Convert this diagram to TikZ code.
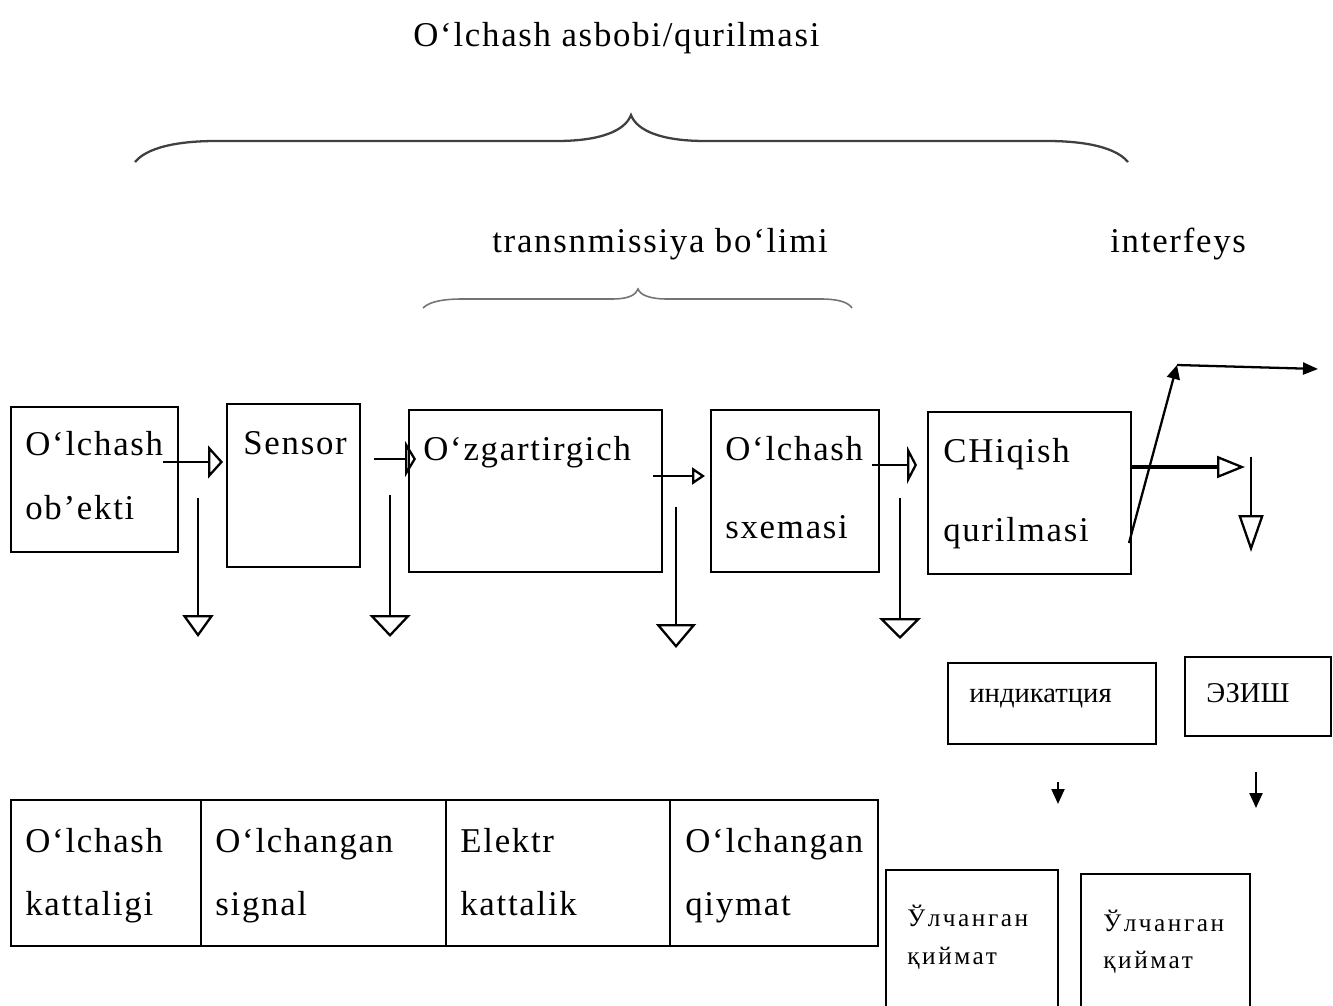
\documentclass[tikz,border=0pt]{standalone}
\usepackage{fontspec}
\setmainfont{Liberation Serif}
\newfontfamily\spacedserif{Liberation Serif}[LetterSpace=5]
\newfontfamily\widecyr{Liberation Serif}[LetterSpace=10]
\usetikzlibrary{arrows.meta}

\begin{document}
\begin{tikzpicture}[x=0.02cm,y=-0.02cm,
  box/.style={draw,line width=1.3pt,anchor=north west,inner sep=0pt,outer sep=0pt},
  boxsize/.style 2 args={minimum width=#1*0.02cm,minimum height=#2*0.02cm},
  txt/.style={anchor=base west,inner sep=0pt,font=\spacedserif\fontsize{19.8}{24}\selectfont},
  small/.style={anchor=base west,inner sep=0pt,font=\widecyr\fontsize{14.4}{17}\selectfont},
  cyr/.style={anchor=base west,inner sep=0pt,font=\fontsize{16.3}{19}\selectfont},
  flow/.style={line width=1.3pt},
  brace/.style={draw=black!75,line width=1.3pt},
  fine brace/.style={draw=black!55,line width=0.9pt}
]
  \useasboundingbox (0,0) rectangle (1333,1006);
  \clip (0,0) rectangle (1333,1006);

  % braces
  \path[brace] (135,162) .. controls (150,144) and (190,141) .. (216,141) -- (557,141)
    .. controls (600,141) and (625,131) .. (631,115)
    .. controls (637,131) and (662,141) .. (705,141) -- (1047,141)
    .. controls (1073,141) and (1113,144) .. (1128,162);
  \path[fine brace] (423,308) .. controls (430,301) and (445,299) .. (463,299) -- (613,299)
    .. controls (628,299) and (636,295) .. (638,289)
    .. controls (640,295) and (650,299) .. (667,299) -- (820,299)
    .. controls (838,299) and (848,302) .. (852,308);

  \node[txt] (title) at (413,47) {O‘lchash asbobi/qurilmasi};
  \node[txt] (trans) at (492,253) {transnmissiya bo‘limi};
  \node[txt] (iface) at (1110,253) {interfeys};

  % chain of blocks
  \node[box,boxsize={167}{145}] (obj) at (11,407) {};
  \node[box,boxsize={133}{163}] (sensor) at (227,404) {};
  \node[box,boxsize={253}{162}] (conv) at (409,410) {};
  \node[box,boxsize={168}{162}] (scheme) at (711,410) {};
  \node[box,boxsize={203}{162}] (out) at (928,412) {};

  \node[txt] (objA) at (25,456) {O‘lchash};
  \node[txt] (objB) at (25,520) {ob’ekti};
  \node[txt] (sensorA) at (243,455) {Sensor};
  \node[txt] (convA) at (423,461) {O‘zgartirgich};
  \node[txt] (schemeA) at (725,461) {O‘lchash};
  \node[txt] (schemeB) at (725,539) {sxemasi};
  \node[txt] (outA) at (943,463) {CHiqish};
  \node[txt] (outB) at (943,542) {qurilmasi};

  % arrow ends
  \foreach \n/\x/\y in {s12/163/462,e12/223/462,s23/374/459,e23/416/459,
      s34/653/476,e34/705/476,s45/872/465,e45/917/465,
      sout/1131/467,eout/1245/467,sdn/1251/457,edn/1251/552,
      sdiag/1129/543,top/1177/365,eright/1318/369,
      s1/198/498,e1/198/637,s2/390/495,e2/390/637,
      s3/676/507,e3/676/648,s4/900/498,e4/900/639,
      sind/1058/782,eind/1058/804,srec/1256/772,erec/1256/808}
    \coordinate (\n) at (\x,\y);

  \draw[flow,-{Triangle[open,length=.3cm,width=.66cm]}] (s12) -- (e12);
  \draw[flow,-{Triangle[open,length=.22cm,width=.72cm]}] (s23) -- (e23);
  \draw[flow,-{Triangle[open,length=.26cm,width=.34cm]}] (s34) -- (e34);
  \draw[flow,-{Triangle[open,length=.2cm,width=.76cm]}] (s45) -- (e45);
  \draw[line width=2.4pt,-{Triangle[open,length=.56cm,width=.44cm,line width=1.3pt]}] (sout) -- (eout);
  \draw[flow,-{Triangle[open,length=.74cm,width=.5cm]}] (sdn) -- (edn);
  \draw[flow,-{Triangle[length=.28cm,width=.26cm]}] (sdiag) -- (top);
  \draw[flow,-{Triangle[length=.3cm,width=.24cm]}] (top) -- (eright);

  \draw[flow,-{Triangle[open,length=.44cm,width=.62cm]}] (s1) -- (e1);
  \draw[flow,-{Triangle[open,length=.44cm,width=.82cm]}] (s2) -- (e2);
  \draw[flow,-{Triangle[open,length=.48cm,width=.8cm]}] (s3) -- (e3);
  \draw[flow,-{Triangle[open,length=.42cm,width=.84cm]}] (s4) -- (e4);

  % output devices
  \node[box,boxsize={208}{81}] (ind) at (948,663) {};
  \node[box,boxsize={146}{79}] (rec) at (1185,657) {};
  \node[cyr] (indA) at (969,703) {индикатция};
  \node[cyr] (recA) at (1206,703) {ЭЗИШ};
  \draw[flow,-{Triangle[length=.3cm,width=.26cm]}] (sind) -- (eind);
  \draw[flow,-{Triangle[length=.3cm,width=.26cm]}] (srec) -- (erec);

  \node[box,boxsize={172}{200}] (valA) at (886,870) {};
  \node[box,boxsize={169}{200}] (valB) at (1081,874) {};
  \node[small] (valAa) at (907,927) {Ўлчанган};
  \node[small] (valAb) at (907,964) {қиймат};
  \node[small] (valBa) at (1103,931) {Ўлчанган};
  \node[small] (valBb) at (1103,968) {қиймат};

  % table of quantities
  \node[box,boxsize={190}{146}] (cellA) at (11,800) {};
  \node[box,boxsize={245}{146}] (cellB) at (201,800) {};
  \node[box,boxsize={224}{146}] (cellC) at (446,800) {};
  \node[box,boxsize={208}{146}] (cellD) at (670,800) {};
  \node[txt] (cellAa) at (25,852) {O‘lchash};
  \node[txt] (cellAb) at (25,915) {kattaligi};
  \node[txt] (cellBa) at (215,852) {O‘lchangan};
  \node[txt] (cellBb) at (215,915) {signal};
  \node[txt] (cellCa) at (460,852) {Elektr};
  \node[txt] (cellCb) at (460,915) {kattalik};
  \node[txt] (cellDa) at (685,852) {O‘lchangan};
  \node[txt] (cellDb) at (685,915) {qiymat};
\end{tikzpicture}
\end{document}
